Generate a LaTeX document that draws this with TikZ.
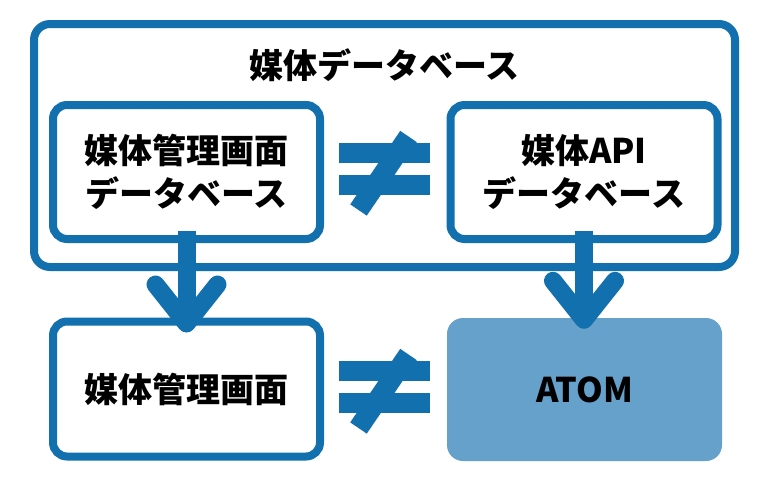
\documentclass[tikz,border=0pt]{standalone}
\usepackage{fontspec}
\setmainfont{Noto Sans CJK JP}
\definecolor{bblue}{HTML}{1270AF}
\definecolor{lblue}{HTML}{65A1CB}
\begin{document}
\begin{tikzpicture}[x=1pt,y=-1pt,
  txt/.style={font=\bfseries\fontsize{34}{43}\selectfont, text=black, align=center},
  box/.style={draw=bblue, line width=8pt, rounded corners=14pt, fill=white,
    minimum width=267pt, minimum height=134pt, inner sep=0pt, txt},
  shaft/.style={draw=bblue, line width=18pt},
  chev/.style={draw=bblue, line width=18pt, line cap=round, line join=round},
  neq/.style={fill=bblue}]
\useasboundingbox (0,0) rectangle (763,482);
\node[draw=bblue, line width=8pt, rounded corners=16pt, minimum width=701pt, minimum height=243pt, inner sep=0pt] (outer) at (384.5,145.5) {};
\node[txt] (title) at (384.5,65) {媒体データベース};
\node[box] (b1) at (186.5,172) {媒体管理画面\\データベース};
\node[box] (b2) at (584,172) {媒体API\\データベース};
\node[box, minimum height=135pt] (b3) at (186.5,389) {媒体管理画面};
\node[fill=lblue, rounded corners=16pt, minimum width=275pt, minimum height=143pt, inner sep=0pt, txt] (atom) at (584.5,389.5) {ATOM};
% arrows
\coordinate (t1) at ([yshift=-6pt]b3.north);
\coordinate (t2) at ([yshift=-2pt]atom.north -| b2.south);
\draw[shaft] ([yshift=12pt]b1.south) -- (t1);
\draw[chev] ([shift={(-31pt,39pt)}]t1) -- (t1) -- ([shift={(31pt,39pt)}]t1);
\draw[shaft] ([yshift=12pt]b2.south) -- (t2);
\draw[chev] ([shift={(-31pt,39pt)}]t2) -- (t2) -- ([shift={(31pt,39pt)}]t2);
% not-equal signs
\foreach \dy in {0,218}{
  \fill[neq] (339,143+\dy) rectangle (430,163+\dy);
  \fill[neq] (339,175+\dy) rectangle (430,195+\dy);
  \draw[bblue, line width=20pt] (358.5,210+\dy) -- (408.5,136.5+\dy);
}
\end{tikzpicture}
\end{document}
